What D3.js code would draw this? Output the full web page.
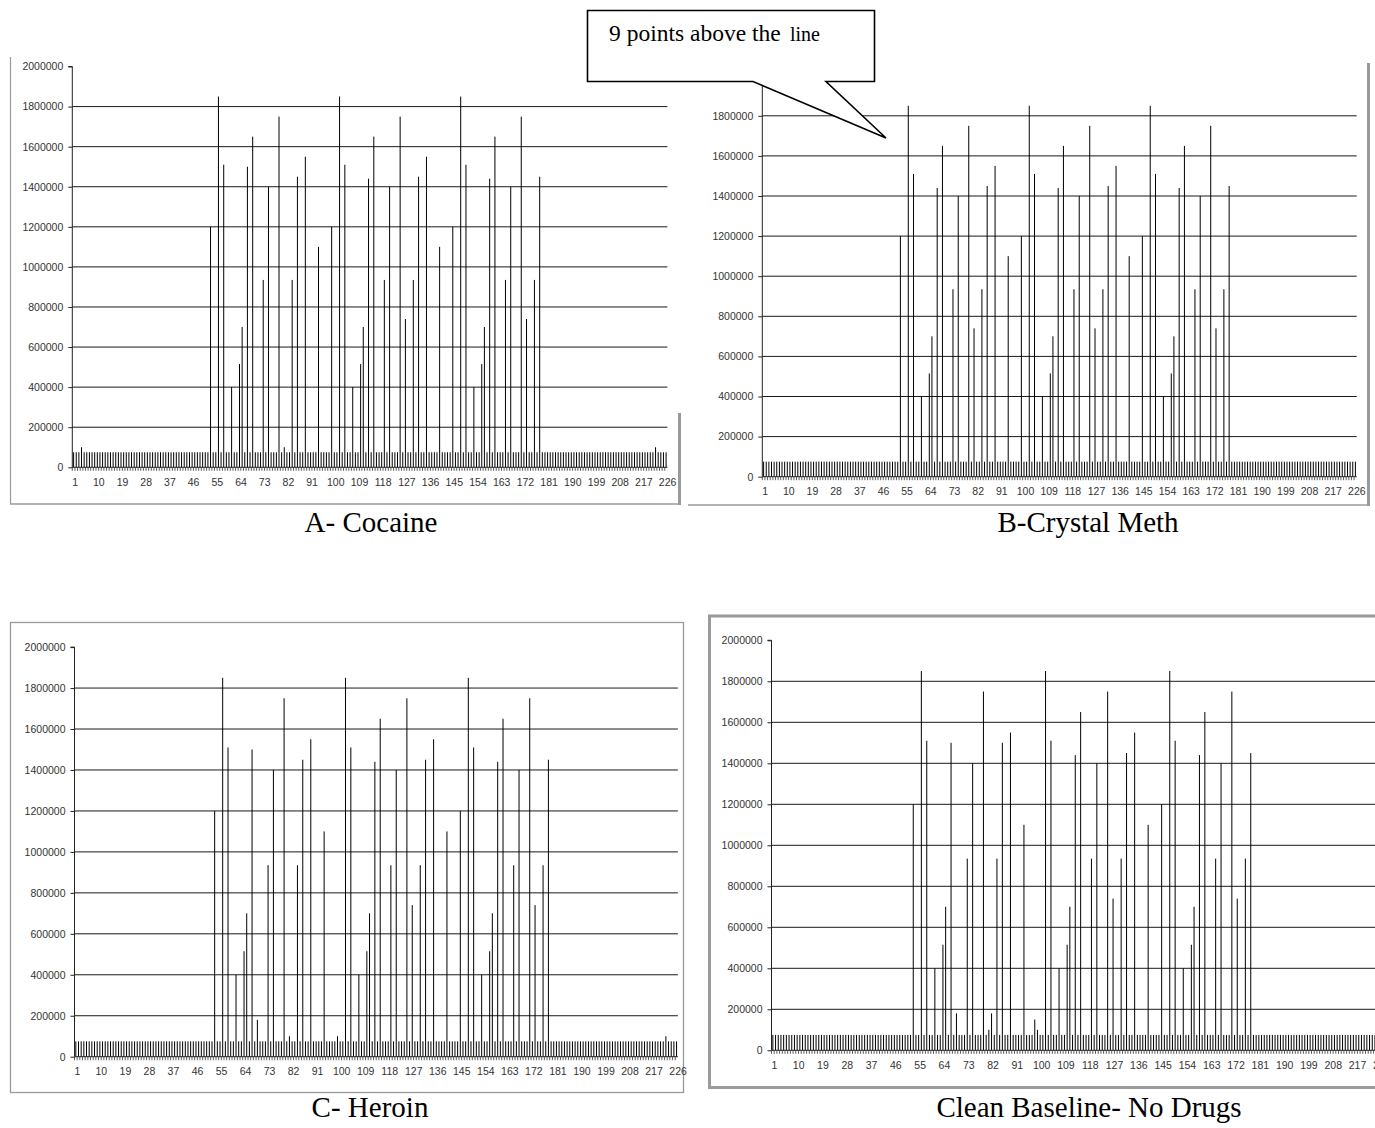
<!DOCTYPE html>
<html>
<head>
<meta charset="utf-8">
<script src="https://cdn.jsdelivr.net/npm/d3@7"></script>
<style>
  html, body { margin: 0; padding: 0; background: #fff; }
  svg { display: block; }
</style>
</head>
<body>
<svg id="chart" width="1375" height="1128"></svg>
<script>
// ---------------- DATA ----------------
const categoryCount = 226;
const categories = d3.range(1, categoryCount + 1);
const xTickLabels = [1, 10, 19, 28, 37, 46, 55, 64, 73, 82, 91, 100, 109, 118, 127, 136, 145, 154, 163, 172, 181, 190, 199, 208, 217, 226];
const yTickValues = [0, 200000, 400000, 600000, 800000, 1000000, 1200000, 1400000, 1600000, 1800000, 2000000];
const yGridValues = [200000, 400000, 600000, 800000, 1000000, 1200000, 1400000, 1600000, 1800000];
const baselineValue = 75000;

// A - Cocaine
const cocaineSpikeCats = [4, 53, 56, 58, 61, 64, 65, 67, 69, 73, 75, 79, 81, 84, 86, 89, 94,
  99, 102, 104, 107, 110, 111, 113, 115, 119, 121, 125, 127, 130, 132, 135, 140,
  145, 148, 150, 153, 156, 157, 159, 161, 165, 167, 171, 173, 176, 178, 222];
const cocaineSpikeVals = [100000, 1200000, 1850000, 1510000, 400000, 515000, 700000, 1500000, 1650000, 935000, 1400000, 1750000, 100000, 935000, 1450000, 1550000, 1100000,
  1200000, 1850000, 1510000, 400000, 515000, 700000, 1440000, 1650000, 935000, 1400000, 1750000, 740000, 935000, 1450000, 1550000, 1100000,
  1200000, 1850000, 1510000, 400000, 515000, 700000, 1440000, 1650000, 935000, 1400000, 1750000, 740000, 935000, 1450000, 100000];

// B - Crystal Meth
const methSpikeCats = [53, 56, 58, 61, 64, 65, 67, 69, 73, 75, 79, 81, 84, 86, 89, 94,
  99, 102, 104, 107, 110, 111, 113, 115, 119, 121, 125, 127, 130, 132, 135, 140,
  145, 148, 150, 153, 156, 157, 159, 161, 165, 167, 171, 173, 176, 178];
const methSpikeVals = [1200000, 1850000, 1510000, 400000, 515000, 700000, 1440000, 1650000, 935000, 1400000, 1750000, 740000, 935000, 1450000, 1550000, 1100000,
  1200000, 1850000, 1510000, 400000, 515000, 700000, 1440000, 1650000, 935000, 1400000, 1750000, 740000, 935000, 1450000, 1550000, 1100000,
  1200000, 1850000, 1510000, 400000, 515000, 700000, 1440000, 1650000, 935000, 1400000, 1750000, 740000, 935000, 1450000];

// C - Heroin
const heroinSpikeCats = [53, 56, 58, 61, 64, 65, 67, 69, 73, 75, 79, 81, 84, 86, 89, 94,
  99, 102, 104, 107, 110, 111, 113, 115, 119, 121, 125, 127, 130, 132, 135, 140,
  145, 148, 150, 153, 156, 157, 159, 161, 165, 167, 171, 173, 176, 178, 222];
const heroinSpikeVals = [1200000, 1850000, 1510000, 400000, 515000, 700000, 1500000, 180000, 935000, 1400000, 1750000, 100000, 935000, 1450000, 1550000, 1100000,
  100000, 1850000, 1510000, 400000, 515000, 700000, 1440000, 1650000, 935000, 1400000, 1750000, 740000, 935000, 1450000, 1550000, 1100000,
  1200000, 1850000, 1510000, 400000, 515000, 700000, 1440000, 1650000, 935000, 1400000, 1750000, 740000, 935000, 1450000, 100000];

// Clean Baseline - No Drugs
const cleanSpikeCats = [53, 56, 58, 61, 64, 65, 67, 69, 73, 75, 79, 81, 82, 84, 86, 89, 94, 98,
  99, 102, 104, 107, 110, 111, 113, 115, 119, 121, 125, 127, 130, 132, 135, 140,
  145, 148, 150, 153, 156, 157, 159, 161, 165, 167, 171, 173, 176, 178];
const cleanSpikeVals = [1200000, 1850000, 1510000, 400000, 515000, 700000, 1500000, 180000, 935000, 1400000, 1750000, 100000, 180000, 935000, 1500000, 1550000, 1100000, 150000,
  100000, 1850000, 1510000, 400000, 515000, 700000, 1440000, 1650000, 935000, 1400000, 1750000, 740000, 935000, 1450000, 1550000, 1100000,
  1200000, 1850000, 1510000, 400000, 515000, 700000, 1440000, 1650000, 935000, 1400000, 1750000, 740000, 935000, 1450000];

const panelTitles = ["A- Cocaine", "B-Crystal Meth", "C- Heroin", "Clean Baseline- No Drugs"];
const calloutMain = "9 points above the";
const calloutSmall = "line";

// ---------------- LAYOUT ----------------
const panels = [
  { cats: cocaineSpikeCats, vals: cocaineSpikeVals, x0: 72.3, x1: 667.4, yTop: 66.5, yZero: 467.3, title: panelTitles[0], tx: 371, ty: 532 },
  { cats: methSpikeCats, vals: methSpikeVals, x0: 762.3, x1: 1356.7, yTop: 75.7, yZero: 476.7, title: panelTitles[1], tx: 1088, ty: 532 },
  { cats: heroinSpikeCats, vals: heroinSpikeVals, x0: 74.5, x1: 677.9, yTop: 647.1, yZero: 1056.7, title: panelTitles[2], tx: 370, ty: 1117 },
  { cats: cleanSpikeCats, vals: cleanSpikeVals, x0: 771.5, x1: 1381.7, yTop: 640.3, yZero: 1050.3, title: panelTitles[3], tx: 1089, ty: 1117 }
];

const svg = d3.select("#chart");
const sansFont = "'Liberation Sans', Arial, sans-serif";
const serifFont = "'Liberation Serif', 'Times New Roman', serif";

// panel frames
const frames = svg.append("g").attr("fill", "none");
// A frame
frames.append("line").attr("x1", 10.5).attr("x2", 10.5).attr("y1", 57).attr("y2", 504).attr("stroke", "#9a9a9a").attr("stroke-width", 1.2);
frames.append("line").attr("x1", 10).attr("x2", 681).attr("y1", 504).attr("y2", 504).attr("stroke", "#9a9a9a").attr("stroke-width", 1.5);
frames.append("line").attr("x1", 679.5).attr("x2", 679.5).attr("y1", 413).attr("y2", 505).attr("stroke", "#9a9a9a").attr("stroke-width", 3);
// B frame
frames.append("line").attr("x1", 1368.5).attr("x2", 1368.5).attr("y1", 63).attr("y2", 506).attr("stroke", "#9a9a9a").attr("stroke-width", 3);
frames.append("line").attr("x1", 688).attr("x2", 1370).attr("y1", 505).attr("y2", 505).attr("stroke", "#9a9a9a").attr("stroke-width", 1.5);
// C frame
frames.append("rect").attr("x", 10.5).attr("y", 622.5).attr("width", 673).attr("height", 470).attr("stroke", "#9a9a9a").attr("stroke-width", 1.3);
// D frame
frames.append("path").attr("d", "M1375,616 H709.5 V1087.5 H1375").attr("stroke", "#9a9a9a").attr("stroke-width", 3);

panels.forEach(p => {
  const spikeMap = new Map(p.cats.map((c, i) => [c, p.vals[i]]));
  const series = categories.map(c => ({ cat: c, value: spikeMap.has(c) ? spikeMap.get(c) : baselineValue }));

  const x = d3.scaleBand().domain(categories).range([p.x0, p.x1]).paddingInner(0).paddingOuter(0);
  const y = d3.scaleLinear().domain([0, 2000000]).range([p.yZero, p.yTop]);
  const cx = c => x(c) + x.bandwidth() / 2;

  const g = svg.append("g");

  // gridlines
  g.append("g").selectAll("line").data(yGridValues).join("line")
    .attr("x1", p.x0).attr("x2", p.x1)
    .attr("y1", d => y(d)).attr("y2", d => y(d))
    .attr("stroke", "#1a1a1a").attr("stroke-width", 1);

  // bars (thin spikes)
  g.append("g").selectAll("line").data(series).join("line")
    .attr("x1", d => cx(d.cat)).attr("x2", d => cx(d.cat))
    .attr("y1", y(0)).attr("y2", d => y(d.value))
    .attr("stroke", "#000").attr("stroke-width", 1);

  // y axis
  const yAxis = d3.axisLeft(y).tickValues(yTickValues).tickSize(4).tickPadding(5).tickFormat(d3.format("d"));
  const ya = g.append("g").attr("transform", `translate(${p.x0},0)`).call(yAxis);
  ya.select(".domain").attr("stroke", "#222").attr("d", `M-4,${y(2000000)}H0V${y(0)}`);
  ya.selectAll(".tick line").attr("stroke", "#222");
  ya.selectAll(".tick text").attr("fill", "#333").style("font-family", sansFont).style("font-size", "10.5px");

  // x axis line
  g.append("line").attr("x1", p.x0).attr("x2", p.x1).attr("y1", y(0)).attr("y2", y(0))
    .attr("stroke", "#222").attr("stroke-width", 1);
  // category tick marks at every category boundary
  g.append("g").selectAll("line").data(categories).join("line")
    .attr("x1", d => x(d)).attr("x2", d => x(d))
    .attr("y1", y(0)).attr("y2", y(0) + 3.5)
    .attr("stroke", "#333").attr("stroke-width", 0.8);
  // x labels
  g.append("g").selectAll("text").data(xTickLabels).join("text")
    .attr("x", d => cx(d) + 1.5)
    .attr("y", y(0) + 18.5)
    .attr("text-anchor", "middle")
    .attr("fill", "#333")
    .style("font-family", sansFont).style("font-size", "10.5px")
    .text(d => d);

  // title
  svg.append("text").attr("x", p.tx).attr("y", p.ty).attr("text-anchor", "middle")
    .style("font-family", serifFont).style("font-size", "29px").attr("fill", "#000")
    .text(p.title);
});

// callout
const callout = svg.append("g");
callout.append("path")
  .attr("d", "M587.5,10.5 H874.5 V81.5 H826 L886,138 L753,81.5 H587.5 Z")
  .attr("fill", "#fff").attr("stroke", "#000").attr("stroke-width", 1.6).attr("stroke-linejoin", "miter");
const ct = callout.append("text").attr("x", 609).attr("y", 41)
  .style("font-family", serifFont).attr("fill", "#000");
ct.append("tspan").style("font-size", "23.5px").text(calloutMain);
ct.append("tspan").attr("x", 790).style("font-size", "20px").text(calloutSmall);
</script>
</body>
</html>
